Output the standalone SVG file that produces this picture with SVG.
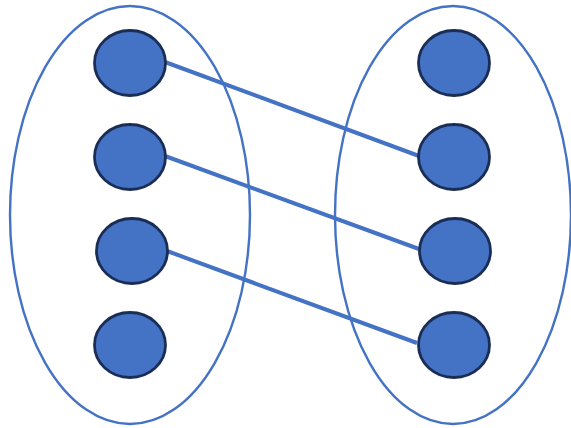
<svg xmlns="http://www.w3.org/2000/svg" width="571" height="428" viewBox="0 0 571 428">
<style>
.set{fill:none;stroke:#4472c4;stroke-width:2.4}
.n{fill:#4472c4;stroke:#1a2d55;stroke-width:2.8}
.c{stroke:#4472c4;stroke-width:4;fill:none}
</style>
<rect width="571" height="428" fill="#ffffff"/>
<g id="setA"><ellipse class="set" cx="130" cy="215" rx="120" ry="209"/></g>
<g id="setB"><ellipse class="set" cx="453" cy="215" rx="118" ry="209"/></g>
<g id="connectors">
<line class="c" x1="165" y1="62" x2="419" y2="156"/>
<line class="c" x1="165" y1="156" x2="419" y2="249"/>
<line class="c" x1="167" y1="251" x2="417" y2="343"/>
</g>
<g id="a1"><ellipse class="n" cx="130" cy="63" rx="35.5" ry="32.5"/></g>
<g id="a2"><ellipse class="n" cx="130" cy="157" rx="35.5" ry="32.5"/></g>
<g id="a3"><ellipse class="n" cx="132" cy="251" rx="35.5" ry="32.5"/></g>
<g id="a4"><ellipse class="n" cx="130" cy="345" rx="35.5" ry="32.5"/></g>
<g id="b1"><ellipse class="n" cx="454" cy="63" rx="35.5" ry="32.5"/></g>
<g id="b2"><ellipse class="n" cx="454" cy="157" rx="35.5" ry="32.5"/></g>
<g id="b3"><ellipse class="n" cx="455" cy="251" rx="35.5" ry="32.5"/></g>
<g id="b4"><ellipse class="n" cx="454" cy="345" rx="35.5" ry="32.5"/></g>
</svg>
